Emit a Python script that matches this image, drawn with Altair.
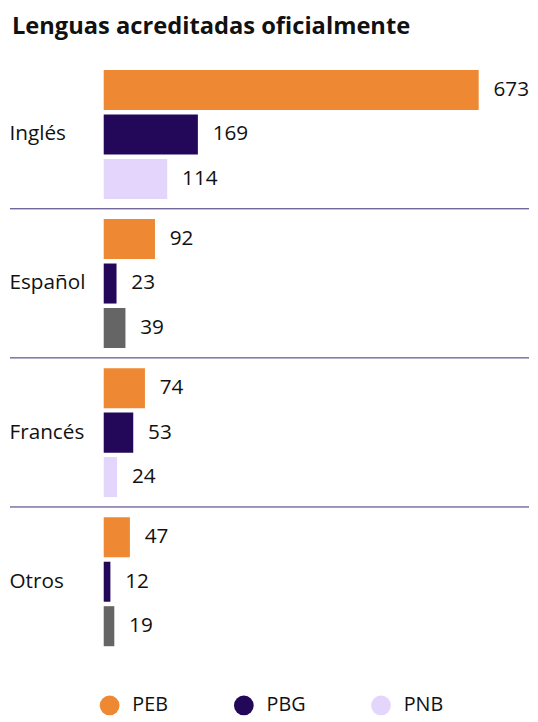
import altair as alt
import pandas as pd

# ---- data ----
lenguas = ["Inglés", "Español", "Francés", "Otros"]
series = ["PEB", "PBG", "PNB"]
peb = [673, 92, 74, 47]
pbg = [169, 23, 53, 12]
pnb = [114, 39, 24, 19]
# PNB bars drawn in grey for Español and Otros in the original
pnb_tipo = ["PNB", "PNB gris", "PNB", "PNB gris"]

rows = []
for i, lang in enumerate(lenguas):
    rows.append({"lengua": lang, "serie": "PEB", "valor": peb[i], "tipo": "PEB"})
    rows.append({"lengua": lang, "serie": "PBG", "valor": pbg[i], "tipo": "PBG"})
    rows.append({"lengua": lang, "serie": "PNB", "valor": pnb[i], "tipo": pnb_tipo[i]})
df = pd.DataFrame(rows)
sep = pd.DataFrame({"lengua": lenguas[:-1]})

FONT = "Open Sans"
W = 380
H = 584

y_enc = alt.Y(
    "lengua:N",
    sort=lenguas,
    scale=alt.Scale(paddingInner=0.135, paddingOuter=0),
    axis=alt.Axis(
        title=None, domain=False, ticks=False, tickSize=0, grid=False,
        labelAlign="left", labelPadding=96, labelFontSize=21,
        labelFont=FONT, labelColor="#111111", labelBaseline="middle",
    ),
)
yoff = alt.YOffset("serie:N", sort=series,
                   scale=alt.Scale(paddingInner=0.1, paddingOuter=0))
x_enc = alt.X("valor:Q", axis=None, scale=alt.Scale(domain=[0, 673], nice=False))

color = alt.Color(
    "tipo:N",
    scale=alt.Scale(domain=["PEB", "PBG", "PNB", "PNB gris"],
                    range=["#ef8833", "#23085a", "#e4d5fd", "#656565"]),
    legend=alt.Legend(
        values=["PEB", "PBG", "PNB"], title=None, orient="none",
        legendX=-4, legendY=634, direction="horizontal", columns=3,
        columnPadding=66, symbolType="circle", symbolSize=400,
        symbolStrokeWidth=0, labelFontSize=20, labelFont=FONT,
        labelColor="#111111", labelOffset=13,
    ),
)

bars = alt.Chart(df).mark_bar().encode(
    x=x_enc, y=y_enc, yOffset=yoff, color=color
)

labels = alt.Chart(df).mark_text(
    align="left", baseline="middle", dx=15, fontSize=21, font=FONT, color="#111111"
).encode(
    x=x_enc, y=y_enc, yOffset=yoff, text="valor:Q"
)

rules = alt.Chart(sep).mark_rule(color="#3a2a70", strokeWidth=1, yOffset=10).encode(
    y=alt.Y("lengua:N", sort=lenguas, bandPosition=1),
    x=alt.value(-95),
    x2=alt.value(431),
)

chart = alt.layer(bars, labels, rules).properties(
    width=W, height=H,
    padding={"left": 1, "top": 3, "right": 0, "bottom": 0},
    title=alt.Title(
        "Lenguas acreditadas oficialmente", anchor="start", fontSize=24,
        font=FONT, fontWeight="bold", color="#111111", offset=31, dx=3,
    ),
).configure_view(stroke=None)

chart.save("out.html", embed_options={"renderer": "svg", "actions": False})
